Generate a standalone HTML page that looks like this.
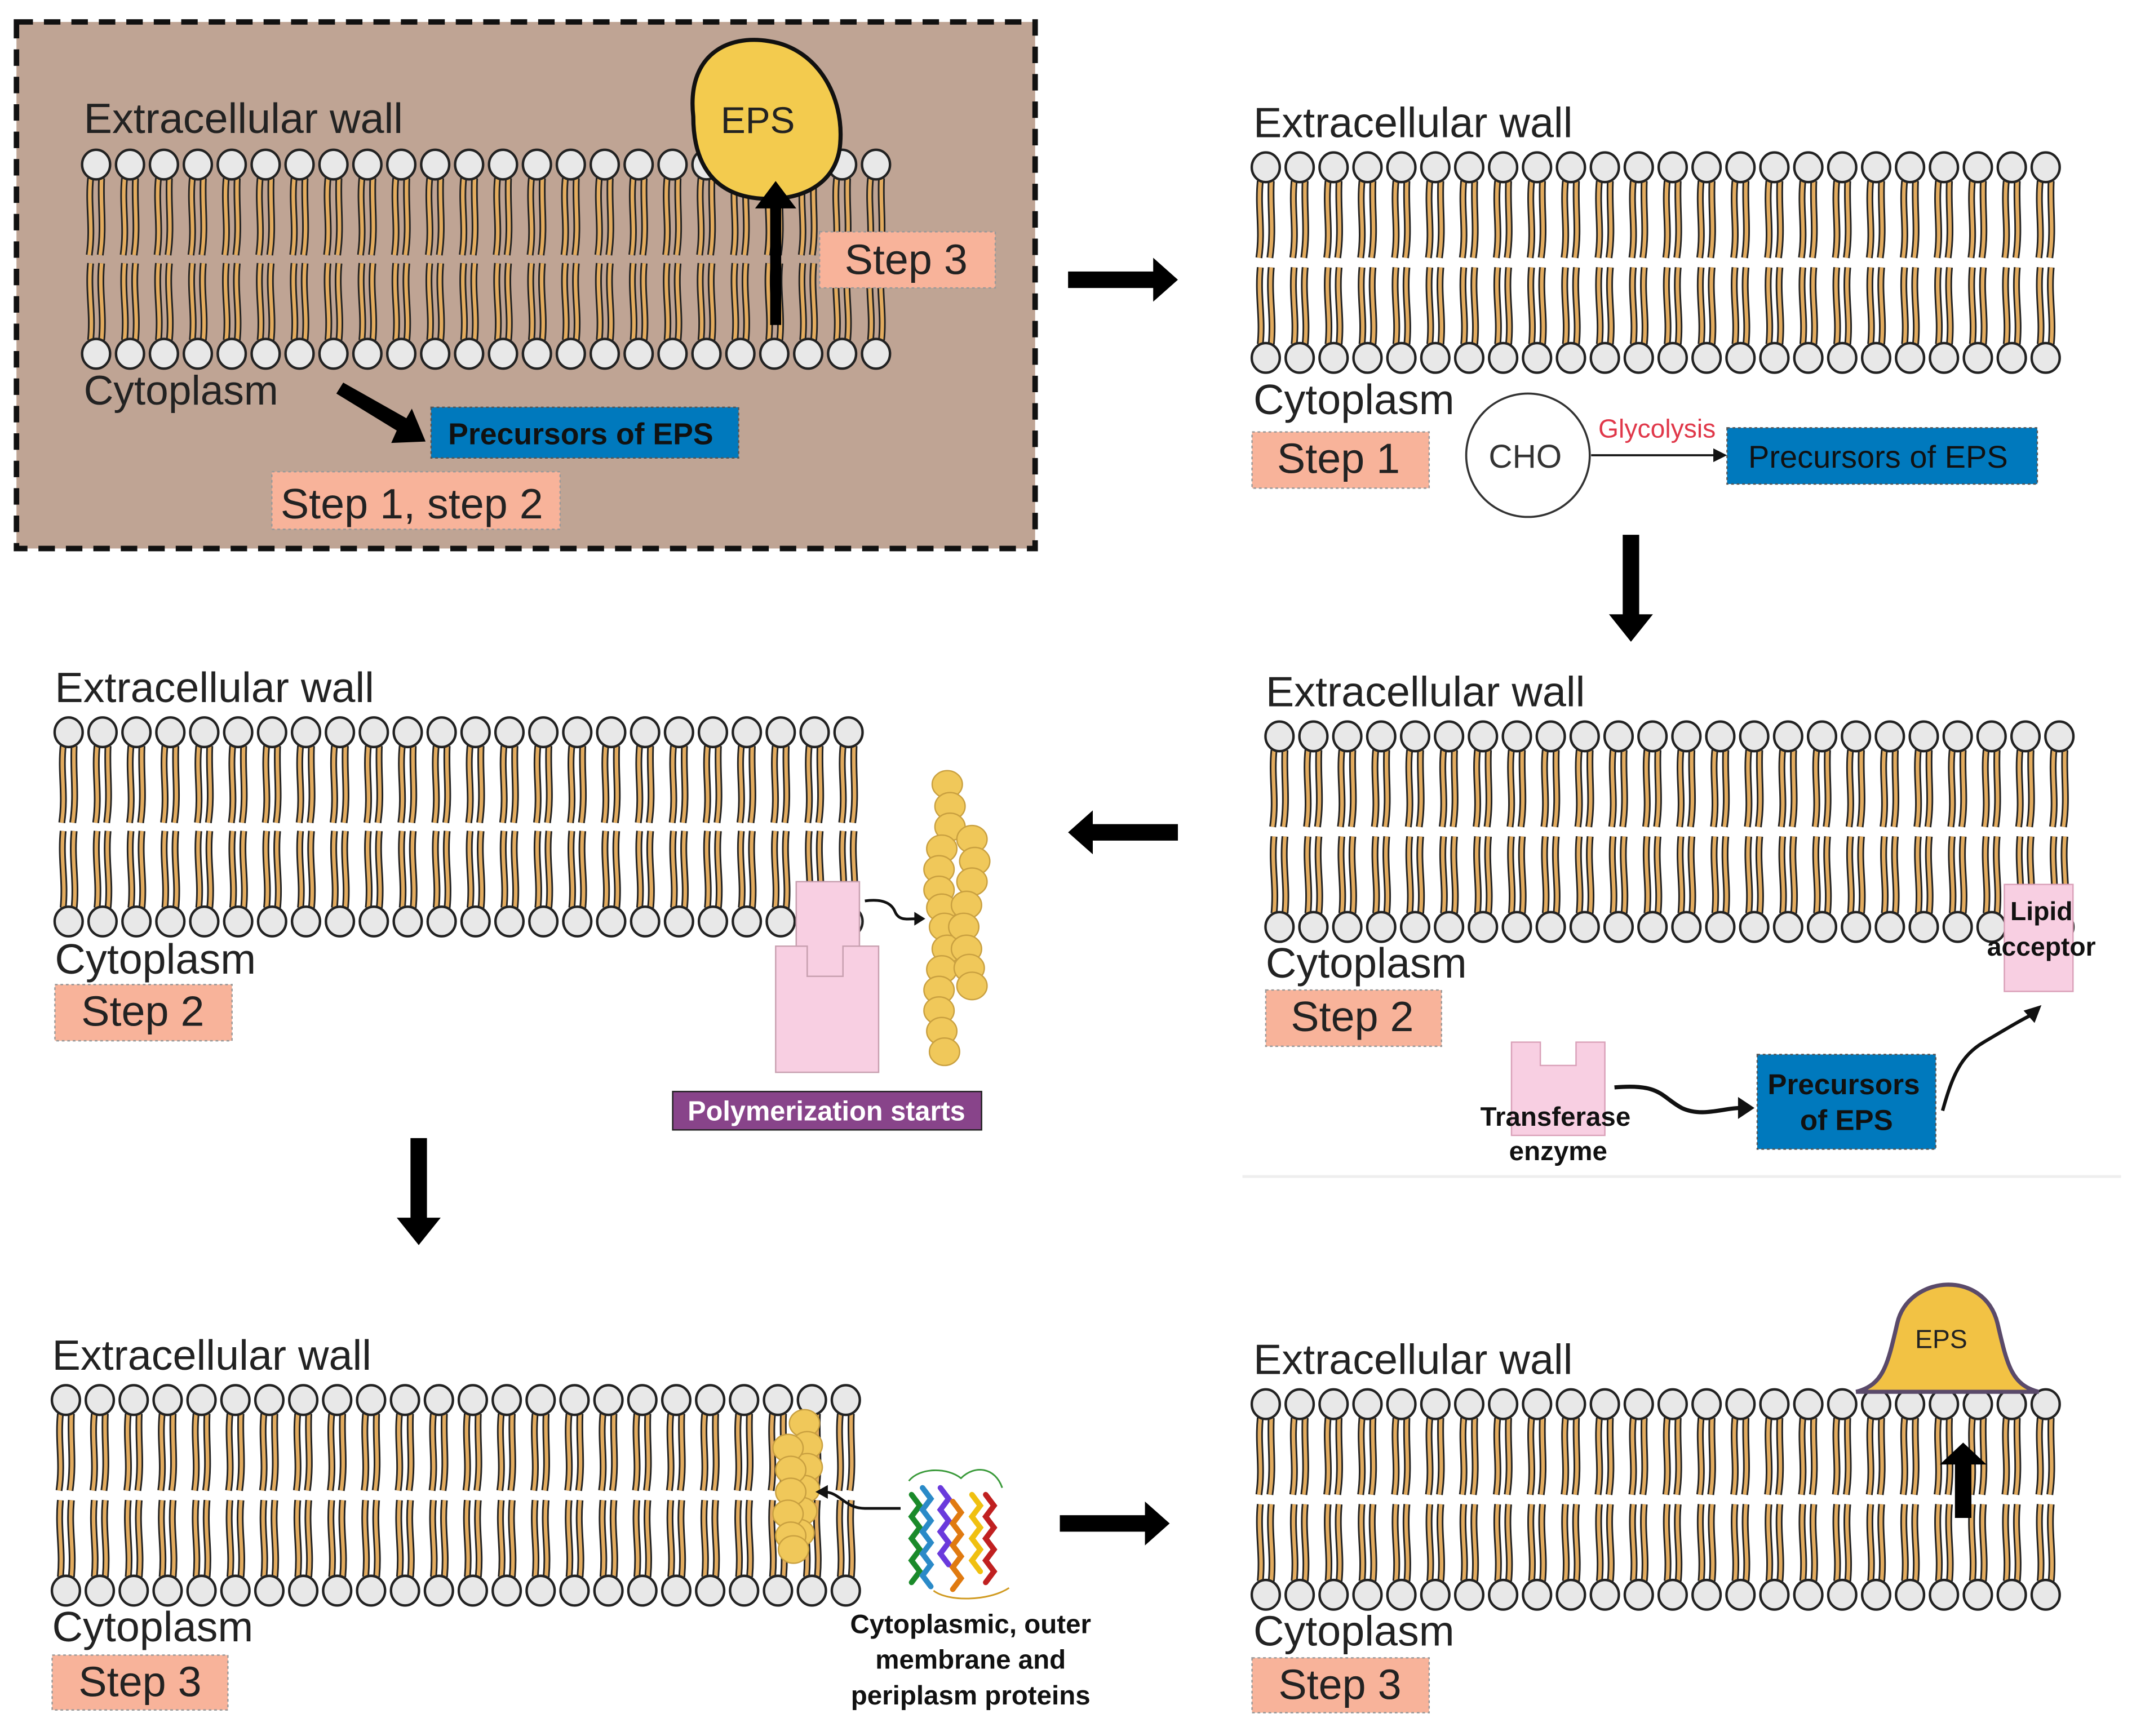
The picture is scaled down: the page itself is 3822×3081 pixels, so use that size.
<!DOCTYPE html>
<html><head><meta charset="utf-8">
<style>
html,body{margin:0;padding:0;background:#fff;}
svg{display:block;}
text{font-family:"Liberation Sans",sans-serif;}
</style></head>
<body>
<svg id="s" width="3822" height="3081" viewBox="0 0 1569 1266" preserveAspectRatio="none" xmlns="http://www.w3.org/2000/svg">
<defs>
<g id="lipT">
<path d="M-4,10 C-6,30 -2,45 -5,66" fill="none" stroke="#222" stroke-width="5"/>
<path d="M-4,10 C-6,30 -2,45 -5,66" fill="none" stroke="#e3ac5f" stroke-width="2.6"/>
<path d="M4,10 C3,30 6,45 3,66" fill="none" stroke="#222" stroke-width="5"/>
<path d="M4,10 C3,30 6,45 3,66" fill="none" stroke="#e3ac5f" stroke-width="2.6"/>
<ellipse cx="0" cy="0" rx="10.2" ry="10.8" fill="#e8e8e8" stroke="#222" stroke-width="1.8"/>
</g>
<g id="lipB">
<path d="M-4,-10 C-2,-30 -6,-45 -4,-66" fill="none" stroke="#222" stroke-width="5"/>
<path d="M-4,-10 C-2,-30 -6,-45 -4,-66" fill="none" stroke="#e3ac5f" stroke-width="2.6"/>
<path d="M4,-10 C6,-30 2,-45 4,-66" fill="none" stroke="#222" stroke-width="5"/>
<path d="M4,-10 C6,-30 2,-45 4,-66" fill="none" stroke="#e3ac5f" stroke-width="2.6"/>
<ellipse cx="0" cy="0" rx="10.2" ry="10.8" fill="#e8e8e8" stroke="#222" stroke-width="1.8"/>
</g>
<g id="bead"><ellipse cx="0" cy="0" rx="11" ry="10" fill="#f0c85a" stroke="#c9a040" stroke-width="1"/></g>
</defs>

<rect x="12" y="16" width="742" height="384" fill="#bfa494" stroke="#111" stroke-width="4" stroke-dasharray="12,8"/>
<g id="m1"></g>

<polygon points="778,198 840,198 840,188 858,204 840,220 840,210 778,210" fill="#000"/>
<polygon points="1182,390 1194,390 1194,448 1204,448 1188,468 1172,448 1182,448" fill="#000"/>
<polygon points="858,601 796,601 796,591 778,607 796,623 796,613 858,613" fill="#000"/>
<polygon points="299,830 311,830 311,888 321,888 305,908 289,888 299,888" fill="#000"/>
<polygon points="772,1105 834,1105 834,1095 852,1111 834,1127 834,1117 772,1117" fill="#000"/>

<g id="mem"></g>

<!-- Panel 1 -->
<path d="M505,85 C500,40 530,25 560,30 C595,35 615,70 612,105 C610,130 590,145 560,145 C525,145 505,125 505,85 Z" fill="#f3cb4e" stroke="#111" stroke-width="3"/>
<text x="552" y="97" font-size="27" text-anchor="middle" fill="#222">EPS</text>
<text x="61" y="97" font-size="31" fill="#222">Extracellular wall</text>
<text x="61" y="295" font-size="30" fill="#222">Cytoplasm</text>
<polygon points="561,237 569,237 569,152 580,152 565,132 550,152 561,152" fill="#000"/>
<rect x="597" y="169" width="128" height="41" fill="#f8b39a" stroke="#999" stroke-dasharray="2,2"/>
<text x="660" y="200" font-size="31" text-anchor="middle" fill="#222">Step 3</text>
<polygon points="245,287 250,279 296,305 300,298 310,322 285,323 289,314" fill="#000"/>
<rect x="314" y="297" width="224" height="37" fill="#0079bd" stroke="#555" stroke-dasharray="2,2"/>
<text x="423" y="324" font-size="22" font-weight="bold" text-anchor="middle" fill="#111">Precursors of EPS</text>
<rect x="198" y="344" width="210" height="42" fill="#f8b39a" stroke="#999" stroke-dasharray="2,2"/>
<text x="300" y="378" font-size="31" text-anchor="middle" fill="#222">Step 1, step 2</text>

<!-- Panel 2 -->
<text x="913" y="100" font-size="31" fill="#222">Extracellular wall</text>
<text x="913" y="302" font-size="31" fill="#222">Cytoplasm</text>
<rect x="912" y="315" width="129" height="41" fill="#f8b39a" stroke="#999" stroke-dasharray="2,2"/>
<text x="975" y="345" font-size="31" text-anchor="middle" fill="#222">Step 1</text>
<circle cx="1113" cy="332" r="45" fill="#fff" stroke="#333" stroke-width="1.5"/>
<text x="1111" y="341" font-size="24" text-anchor="middle" fill="#333">CHO</text>
<text x="1207" y="319" font-size="19" text-anchor="middle" fill="#e0384a">Glycolysis</text>
<line x1="1159" y1="332" x2="1250" y2="332" stroke="#111" stroke-width="1.5"/>
<polygon points="1258,332 1248,327 1248,337" fill="#111"/>
<rect x="1258" y="312" width="226" height="41" fill="#0079bd" stroke="#555" stroke-dasharray="2,2"/>
<text x="1368" y="341" font-size="23" text-anchor="middle" fill="#111">Precursors of EPS</text>

<!-- Panel 3 -->
<text x="922" y="515" font-size="31" fill="#222">Extracellular wall</text>
<text x="922" y="713" font-size="31" fill="#222">Cytoplasm</text>
<rect x="922" y="722" width="128" height="41" fill="#f8b39a" stroke="#999" stroke-dasharray="2,2"/>
<text x="985" y="752" font-size="31" text-anchor="middle" fill="#222">Step 2</text>
<rect x="1460" y="645" width="50" height="78" fill="#f8cfe2" stroke="#d9a0b8"/>
<text x="1487" y="671" font-size="19" font-weight="bold" text-anchor="middle" fill="#111">Lipid</text>
<text x="1487" y="697" font-size="19" font-weight="bold" text-anchor="middle" fill="#111">acceptor</text>
<path d="M1101,760 L1122,760 L1122,777 L1148,777 L1148,760 L1169,760 L1169,828 L1101,828 Z" fill="#f8cfe2" stroke="#d9a0b8"/>
<text x="1133" y="821" font-size="19.5" font-weight="bold" text-anchor="middle" fill="#111">Transferase</text>
<text x="1135" y="846" font-size="19.5" font-weight="bold" text-anchor="middle" fill="#111">enzyme</text>
<path d="M1176,793 C1210,790 1210,800 1225,808 C1240,815 1255,808 1268,808" fill="none" stroke="#111" stroke-width="3"/>
<polygon points="1278,808 1266,800 1266,816" fill="#111"/>
<rect x="1280" y="769" width="130" height="69" fill="#0079bd" stroke="#555" stroke-dasharray="2,2"/>
<text x="1343" y="798" font-size="21" font-weight="bold" text-anchor="middle" fill="#111">Precursors</text>
<text x="1345" y="824" font-size="21" font-weight="bold" text-anchor="middle" fill="#111">of EPS</text>
<path d="M1415,810 C1422,785 1428,770 1445,760 C1462,750 1470,745 1480,740" fill="none" stroke="#111" stroke-width="2.5"/>
<polygon points="1487,733 1474,737 1482,746" fill="#111"/>
<line x1="905" y1="858" x2="1545" y2="858" stroke="#eee" stroke-width="2"/>

<!-- Panel 4 -->
<text x="40" y="512" font-size="31" fill="#222">Extracellular wall</text>
<text x="40" y="710" font-size="31" fill="#222">Cytoplasm</text>
<rect x="40" y="718" width="129" height="41" fill="#f8b39a" stroke="#999" stroke-dasharray="2,2"/>
<text x="104" y="748" font-size="31" text-anchor="middle" fill="#222">Step 2</text>
<path d="M580,643 L626,643 L626,690 L640,690 L640,782 L565,782 L565,690 L588,690 L588,712 L614,712 L614,690 L580,690 Z" fill="#f8cfe2" stroke="#c8a0b0"/>
<path d="M580,643 L626,643 L626,690 L614,690 L614,712 L588,712 L588,690 L580,690 Z" fill="#f8cfe2" stroke="#c8a0b0"/>
<path d="M630,657 C645,655 650,660 652,665 C655,672 662,670 668,670" fill="none" stroke="#111" stroke-width="2"/>
<polygon points="674,670 666,665 666,675" fill="#111"/>
<g id="chain4"></g>
<rect x="490" y="796" width="225" height="28" fill="#88448a" stroke="#222"/>
<text x="602" y="817" font-size="20" font-weight="bold" text-anchor="middle" fill="#fff">Polymerization starts</text>

<!-- Panel 5 -->
<text x="38" y="999" font-size="31" fill="#222">Extracellular wall</text>
<text x="38" y="1197" font-size="31" fill="#222">Cytoplasm</text>
<rect x="38" y="1207" width="128" height="40" fill="#f8b39a" stroke="#999" stroke-dasharray="2,2"/>
<text x="102" y="1237" font-size="31" text-anchor="middle" fill="#222">Step 3</text>
<g id="chain5"></g>
<path d="M656,1100 L630,1100 C615,1100 612,1088 600,1088" fill="none" stroke="#111" stroke-width="2"/>
<polygon points="594,1088 603,1083 603,1093" fill="#111"/>
<g fill="none" stroke-width="4" stroke-linecap="round">
<path d="M664,1090 l6,8 l-6,8 l6,8 l-6,8 l6,8 l-6,8 l6,8 l-6,8" stroke="#1a8a2a"/>
<path d="M672,1085 l6,8 l-6,8 l6,8 l-6,8 l6,8 l-6,8 l6,8 l-6,8 l6,8" stroke="#2a8ac8"/>
<path d="M685,1085 l6,8 l-6,8 l6,8 l-6,8 l6,8 l-6,8 l6,8" stroke="#6a3adc"/>
<path d="M694,1095 l6,8 l-6,8 l6,8 l-6,8 l6,8 l-6,8 l6,8 l-6,8" stroke="#e07a10"/>
<path d="M708,1090 l6,8 l-6,8 l6,8 l-6,8 l6,8 l-6,8 l6,8" stroke="#f0c010"/>
<path d="M718,1090 l6,8 l-6,8 l6,8 l-6,8 l6,8 l-6,8 l6,8 l-6,8" stroke="#c02020"/>
</g>
<g fill="none" stroke-width="1.2">
<path d="M662,1080 C670,1070 690,1070 700,1078 C710,1068 725,1070 730,1085" stroke="#3a9a3a"/>
<path d="M680,1160 C690,1168 720,1168 735,1158" stroke="#d09a20"/>
</g>
<text x="707" y="1191" font-size="19.5" font-weight="bold" text-anchor="middle" fill="#111">Cytoplasmic, outer</text>
<text x="707" y="1217" font-size="19.5" font-weight="bold" text-anchor="middle" fill="#111">membrane and</text>
<text x="707" y="1243" font-size="19.5" font-weight="bold" text-anchor="middle" fill="#111">periplasm proteins</text>

<!-- Panel 6 -->
<text x="913" y="1002" font-size="31" fill="#222">Extracellular wall</text>
<text x="913" y="1200" font-size="31" fill="#222">Cytoplasm</text>
<rect x="912" y="1209" width="129" height="40" fill="#f8b39a" stroke="#999" stroke-dasharray="2,2"/>
<text x="976" y="1239" font-size="31" text-anchor="middle" fill="#222">Step 3</text>
<path d="M1352,1015 C1372,1010 1375,995 1382,965 C1390,930 1445,925 1455,965 C1462,995 1465,1010 1485,1015 Z" fill="#f2c244" stroke="#5a4a6a" stroke-width="3"/>
<text x="1414" y="983" font-size="19" text-anchor="middle" fill="#222">EPS</text>
<polygon points="1424,1107 1436,1107 1436,1068 1447,1068 1430,1052 1413,1068 1424,1068" fill="#000"/>
</svg>
<script>
(function(){
var NS="http://www.w3.org/2000/svg";
function mem(g,x0,yt,yb){
 for(var i=0;i<24;i++){
  var x=x0+i*24.7;
  var u=document.createElementNS(NS,"use");u.setAttribute("href","#lipT");u.setAttribute("x",x);u.setAttribute("y",yt);g.appendChild(u);
  var v=document.createElementNS(NS,"use");v.setAttribute("href","#lipB");v.setAttribute("x",x);v.setAttribute("y",yb);g.appendChild(v);
 }
}
mem(document.getElementById("m1"),70,120,258);
var g=document.getElementById("mem");
mem(g,922,122,261);
mem(g,932,537,676);
mem(g,50,534,672);
mem(g,48,1021,1160);
mem(g,922,1024,1163);
function beads(id,pts){var gg=document.getElementById(id);pts.forEach(function(p){var u=document.createElementNS(NS,"use");u.setAttribute("href","#bead");u.setAttribute("x",p[0]);u.setAttribute("y",p[1]);gg.appendChild(u);});}
var c4=[];
[[690,572],[692,588],[692,603],[686,619],[684,634],[684,649],[686,662],[688,676],[690,692],[686,707],[684,722],[684,737],[686,752],[688,767]].forEach(function(p){c4.push(p)});
[[708,612],[710,628],[708,643],[704,660],[702,676],[704,692],[706,706],[708,719]].forEach(function(p){c4.push(p)});
beads("chain4",c4);
beads("chain5",[[586,1038],[588,1054],[588,1070],[586,1086],[584,1102],[582,1118],[574,1056],[576,1072],[576,1088],[574,1104],[576,1120],[578,1130]]);
})();
</script>
</body></html>
